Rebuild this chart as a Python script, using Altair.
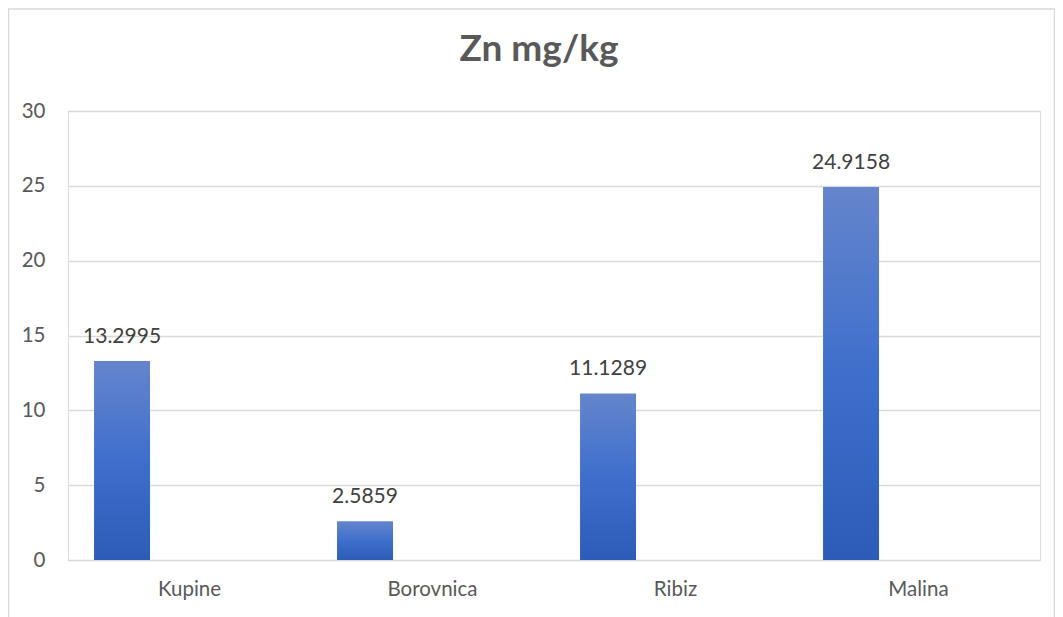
import altair as alt
import pandas as pd

categories = ["Kupine", "Borovnica", "Ribiz", "Malina"]
values = [13.2995, 2.5859, 11.1289, 24.9158]
series_name = "Zn"
y_ticks = [0, 5, 10, 15, 20, 25, 30]

df = pd.DataFrame({"cat": categories, "val": values, "series": [series_name] * len(categories)})

FONT = "Lato"
GRAY = "#595959"

x_enc = alt.X("cat:N", sort=categories, title=None,
              scale=alt.Scale(paddingInner=0, paddingOuter=0),
              axis=alt.Axis(domain=False, ticks=False, labelAngle=0, labelPadding=19,
                            labelFontSize=20.5, labelColor=GRAY, labelFont=FONT, grid=False))
xo_enc = alt.XOffset("series:N",
                     scale=alt.Scale(domain=[series_name, "_"], paddingInner=0.585, paddingOuter=0.193))
y_enc = alt.Y("val:Q", title=None,
              scale=alt.Scale(domain=[0, 30], nice=False),
              axis=alt.Axis(values=y_ticks, domain=False, ticks=False, labelPadding=23,
                            labelFontSize=20.5, labelColor=GRAY, labelFont=FONT,
                            grid=True, gridColor="#d9d9d9", gridWidth=1.3))

gradient = alt.Gradient(
    gradient="linear",
    stops=[alt.GradientStop(color="#6585cc", offset=0),
           alt.GradientStop(color="#3e6fcc", offset=0.5),
           alt.GradientStop(color="#2c5cb8", offset=1)],
    x1=1, x2=1, y1=0, y2=1,
)

bars = alt.Chart(df).mark_bar(fill=gradient, stroke=None).encode(
    x=x_enc, xOffset=xo_enc, y=y_enc
)

labels = alt.Chart(df).mark_text(
    baseline="alphabetic", dy=-18, fontSize=21, font=FONT, color="#404040"
).encode(
    x=x_enc, xOffset=xo_enc, y=y_enc,
    text=alt.Text("val:Q", format=".4f")
)

border = alt.Chart(pd.DataFrame({"k": [0]})).mark_rect(
    fill="transparent", stroke="#d9d9d9", strokeWidth=1.5
).encode(
    x=alt.value(-59.5), x2=alt.value(986.5), y=alt.value(-102), y2=alt.value(540)
)

chart = alt.layer(border, bars, labels).properties(
    width=972, height=449,
    padding={"left": 60, "top": 103, "right": 15, "bottom": 57},
    autosize="none",
    title=alt.TitleParams("Zn mg/kg", anchor="middle", frame="group", fontSize=37,
                          font=FONT, fontWeight="bold", color=GRAY,
                          baseline="alphabetic", offset=-90, dx=-15),
).configure_view(stroke=None).configure(background="white")

chart.save("out.html", embed_options={"renderer": "svg", "actions": False})
